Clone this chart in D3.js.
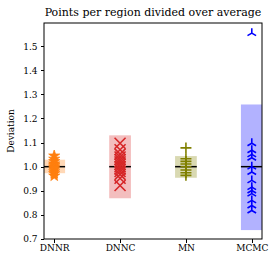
<!DOCTYPE html>
<html>
<head>
  <script src="https://d3js.org/d3.v7.min.js"></script>
  <style>
    body { margin: 0; background: #fff; }
    svg text { font-family: "DejaVu Serif", serif; fill: #000; }
    .axis path, .axis line { stroke: #000; shape-rendering: crispEdges; }
  </style>
</head>
<body>
<script>
  var categories = ["DNNR", "DNNC", "MN", "MCMC"];
  var colors = ["#ff7f0e", "#d62728", "#808000", "#0000ff"];
  var shapes = ["star", "x", "plus", "tri"];
  // points per region / average
  var dnnrValues = [1.045, 1.032, 1.022, 1.012, 1.006, 1.0, 0.995, 0.988, 0.98, 0.972, 0.962];
  var dnncValues = [1.097, 1.07, 1.052, 1.04, 1.03, 1.02, 1.01, 1.0, 0.99, 0.98, 0.968, 0.952, 0.922];
  var mnValues = [1.078, 1.033, 1.022, 1.011, 1.0, 0.986, 0.975, 0.964];
  var mcmcValues = [1.554, 1.097, 1.068, 1.051, 1.037, 1.0, 0.978, 0.943, 0.915, 0.901, 0.888, 0.86, 0.839, 0.818];
  var means = [1.0, 1.0, 1.0, 1.0];
  var boxTop = [1.029, 1.13, 1.044, 1.258];
  var boxBottom = [0.973, 0.869, 0.954, 0.737];
  var yTicks = [0.7, 0.8, 0.9, 1.0, 1.1, 1.2, 1.3, 1.4, 1.5];
  var allValues = [dnnrValues, dnncValues, mnValues, mcmcValues];

  var W = 278, H = 265;
  var margin = {top: 23, right: 16, bottom: 26, left: 44};
  var width = W - margin.left - margin.right,
      height = H - margin.top - margin.bottom;

  var svg = d3.select("body").append("svg")
    .attr("width", W).attr("height", H);
  var g = svg.append("g")
    .attr("transform", "translate(" + margin.left + "," + margin.top + ")");

  var x = d3.scaleLinear().domain([-0.155, 3.155]).range([0, width]);
  var y = d3.scaleLinear().domain([0.7, 1.596]).range([height, 0]);
  var halfW = 0.165;

  g.append("clipPath").attr("id", "clip")
    .append("rect").attr("width", width).attr("height", height);
  var plot = g.append("g").attr("clip-path", "url(#clip)");

  // std boxes
  plot.selectAll(".box")
    .data(categories)
    .enter().append("rect")
    .attr("class", "box")
    .attr("x", function(d, i) { return x(i - halfW); })
    .attr("width", function(d, i) { return x(i + halfW) - x(i - halfW); })
    .attr("y", function(d, i) { return y(boxTop[i]); })
    .attr("height", function(d, i) { return y(boxBottom[i]) - y(boxTop[i]); })
    .attr("fill", function(d, i) { return colors[i]; })
    .attr("fill-opacity", 0.3);

  // mean lines
  plot.selectAll(".mean")
    .data(means)
    .enter().append("line")
    .attr("x1", function(d, i) { return x(i - halfW); })
    .attr("x2", function(d, i) { return x(i + halfW); })
    .attr("y1", function(d) { return y(d); })
    .attr("y2", function(d) { return y(d); })
    .attr("stroke", "#000")
    .attr("stroke-width", 1.5);

  function markerPath(shape) {
    if (shape == "star") return d3.symbol().type(d3.symbolStar).size(38)();
    if (shape == "x") return "M-5.5,-5.5L5.5,5.5M-5.5,5.5L5.5,-5.5";
    if (shape == "plus") return "M-5.5,0L5.5,0M0,-5.5L0,5.5";
    // tri_up
    return "M0,0L0,-5M0,0L-4.3,2.5M0,0L4.3,2.5";
  }

  allValues.forEach(function(vals, i) {
    plot.selectAll(".pt" + i)
      .data(vals)
      .enter().append("path")
      .attr("class", "pt" + i)
      .attr("transform", function(d) { return "translate(" + x(i) + "," + y(d) + ")"; })
      .attr("d", markerPath(shapes[i]))
      .attr("fill", shapes[i] == "star" ? colors[i] : "none")
      .attr("stroke", colors[i])
      .attr("stroke-width", shapes[i] == "star" ? 0.8 : 1.6);
  });

  // axes
  var xAxis = d3.axisBottom(x).tickValues([0, 1, 2, 3])
    .tickFormat(function(d) { return categories[d]; })
    .tickSize(3.5).tickPadding(2);
  var yAxis = d3.axisLeft(y).tickValues(yTicks)
    .tickFormat(d3.format(".1f"))
    .tickSize(3.5).tickPadding(3);

  g.append("g").attr("class", "axis")
    .attr("transform", "translate(0," + height + ")")
    .call(xAxis)
    .call(function(a) { a.select(".domain").remove(); })
    .selectAll("text").style("font-size", "9px");
  g.append("g").attr("class", "axis")
    .call(yAxis)
    .call(function(a) { a.select(".domain").remove(); })
    .selectAll("text").style("font-size", "9px");

  g.append("rect")
    .attr("width", width).attr("height", height)
    .attr("fill", "none").attr("stroke", "#000").attr("stroke-width", 1);

  svg.append("text")
    .attr("x", margin.left + width / 2)
    .attr("y", 16)
    .attr("text-anchor", "middle")
    .style("font-size", "11px")
    .text("Points per region divided over average");

  svg.append("text")
    .attr("transform", "translate(14," + (margin.top + height / 2) + ") rotate(-90)")
    .attr("text-anchor", "middle")
    .style("font-size", "9px")
    .text("Deviation");
</script>
</body>
</html>
